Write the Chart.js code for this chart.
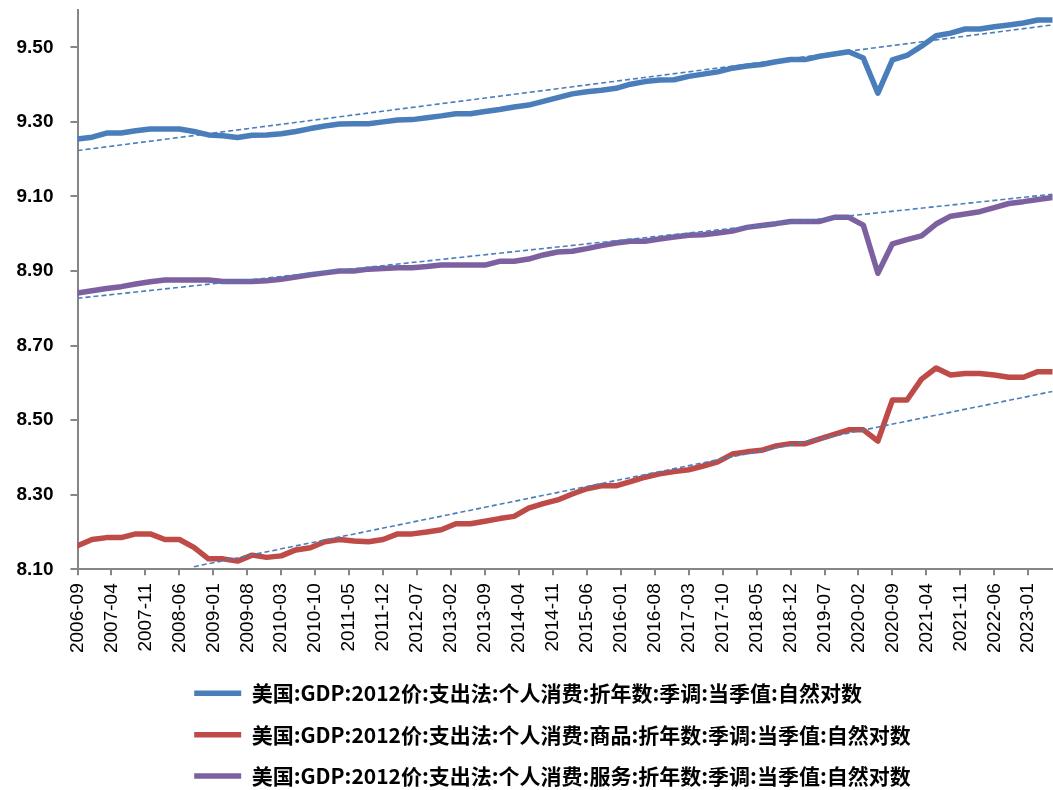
<!DOCTYPE html>
<html><head><meta charset="utf-8">
<script src="https://cdn.jsdelivr.net/npm/chart.js@4.4.0/dist/chart.umd.min.js"></script>
<style>html,body{margin:0;padding:0;background:#fff;}#wrap{width:1053px;height:790px;}</style>
</head><body><div id="wrap"><canvas id="c" width="1053" height="790"></canvas></div>
<script>
const quarters = ['2006-09','2006-12',
 '2007-03','2007-06','2007-09','2007-12','2008-03','2008-06','2008-09','2008-12',
 '2009-03','2009-06','2009-09','2009-12','2010-03','2010-06','2010-09','2010-12',
 '2011-03','2011-06','2011-09','2011-12','2012-03','2012-06','2012-09','2012-12',
 '2013-03','2013-06','2013-09','2013-12','2014-03','2014-06','2014-09','2014-12',
 '2015-03','2015-06','2015-09','2015-12','2016-03','2016-06','2016-09','2016-12',
 '2017-03','2017-06','2017-09','2017-12','2018-03','2018-06','2018-09','2018-12',
 '2019-03','2019-06','2019-09','2019-12','2020-03','2020-06','2020-09','2020-12',
 '2021-03','2021-06','2021-09','2021-12','2022-03','2022-06','2022-09','2022-12',
 '2023-03','2023-06'];
const totalConsumption = [9.254,9.259,9.270,9.270,9.276,9.281,9.281,9.281,9.274,9.265,
 9.263,9.258,9.264,9.265,9.268,9.274,9.282,9.289,9.294,9.295,
 9.295,9.300,9.305,9.306,9.311,9.316,9.322,9.322,9.328,9.333,
 9.340,9.345,9.355,9.365,9.375,9.381,9.385,9.390,9.401,9.408,
 9.412,9.413,9.422,9.428,9.434,9.444,9.450,9.454,9.461,9.467,
 9.467,9.476,9.482,9.488,9.471,9.377,9.466,9.478,9.503,9.531,
 9.538,9.549,9.549,9.555,9.560,9.565,9.573,9.573];
const goodsConsumption = [8.163,8.180,8.185,8.185,8.195,8.195,8.180,8.180,8.159,8.128,
 8.128,8.122,8.138,8.132,8.136,8.152,8.158,8.174,8.180,8.176,
 8.174,8.180,8.195,8.195,8.200,8.206,8.222,8.222,8.229,8.236,
 8.242,8.264,8.276,8.286,8.302,8.316,8.324,8.324,8.335,8.347,
 8.356,8.362,8.367,8.377,8.388,8.409,8.415,8.419,8.431,8.437,
 8.437,8.450,8.462,8.474,8.474,8.444,8.554,8.554,8.610,8.640,
 8.621,8.625,8.625,8.621,8.615,8.615,8.630,8.630];
const servicesConsumption = [8.841,8.847,8.853,8.858,8.865,8.871,8.876,8.876,8.876,8.876,
 8.872,8.872,8.872,8.874,8.878,8.884,8.890,8.895,8.900,8.900,
 8.905,8.907,8.909,8.909,8.912,8.916,8.916,8.916,8.916,8.926,
 8.926,8.932,8.943,8.951,8.953,8.960,8.968,8.975,8.980,8.980,
 8.986,8.991,8.996,8.997,9.002,9.007,9.017,9.022,9.027,9.033,
 9.033,9.033,9.044,9.044,9.023,8.894,8.973,8.984,8.994,9.026,
 9.047,9.053,9.059,9.070,9.081,9.086,9.092,9.097];
const trendTotalDates = ['2006-09','2023-06'];
const trendTotalValues = [9.223, 9.560];
const trendGoodsDates = ['2008-09','2023-06'];
const trendGoodsValues = [8.107, 8.577];
const trendServicesDates = ['2006-09','2023-06'];
const trendServicesValues = [8.827, 9.106];
const xTickLabels = ['2006-09','2007-04','2007-11','2008-06','2009-01','2009-08','2010-03','2010-10',
 '2011-05','2011-12','2012-07','2013-02','2013-09','2014-04','2014-11','2015-06','2016-01','2016-08',
 '2017-03','2017-10','2018-05','2018-12','2019-07','2020-02','2020-09','2021-04','2021-11','2022-06','2023-01'];
const yTickValues = [8.10,8.30,8.50,8.70,8.90,9.10,9.30,9.50];
const seriesNames = ['美国:GDP:2012价:支出法:个人消费:折年数:季调:当季值:自然对数',
 '美国:GDP:2012价:支出法:个人消费:商品:折年数:季调:当季值:自然对数',
 '美国:GDP:2012价:支出法:个人消费:服务:折年数:季调:当季值:自然对数'];

const monthIdx = s => { const [y, m] = s.split('-').map(Number); return (y - 2006) * 12 + (m - 9); };
const pts = (dates, vals) => dates.map((d, i) => ({x: monthIdx(d), y: vals[i]}));
const tickLabelMap = {};
xTickLabels.forEach(l => { tickLabelMap[monthIdx(l)] = l; });

const BLUE = '#4a7ebb', RED = '#be4b48', PURPLE = '#7d60a0', AXIS = '#868686';
const LEG_FONT = 21, LEG_PAD = 20.35;

const mainLine = (label, data, color) => ({
  label, data: pts(quarters, data), borderColor: color, backgroundColor: color,
  borderWidth: 5.5, pointRadius: 0, tension: 0, borderCapStyle: 'round', borderJoinStyle: 'round', order: 1
});
const trendLine = (dates, vals) => ({
  label: 'trend', data: pts(dates, vals), borderColor: BLUE, backgroundColor: BLUE,
  borderWidth: 1.6, borderDash: [5, 3], pointRadius: 0, tension: 0, order: 0
});

const legendShift = {
  id: 'legendShift',
  afterLayout(chart) {
    const lg = chart.legend;
    const dx = (194.2 - LEG_PAD) - lg.left; lg.left += dx; lg.right += dx;
    const dy = (693.3 - LEG_PAD - LEG_FONT / 2) - lg.top; lg.top += dy; lg.bottom += dy;
  }
};

new Chart(document.getElementById('c'), {
  type: 'line',
  data: { datasets: [
    mainLine(seriesNames[0], totalConsumption, BLUE),
    mainLine(seriesNames[1], goodsConsumption, RED),
    mainLine(seriesNames[2], servicesConsumption, PURPLE),
    trendLine(trendTotalDates, trendTotalValues),
    trendLine(trendGoodsDates, trendGoodsValues),
    trendLine(trendServicesDates, trendServicesValues)
  ]},
  options: {
    responsive: false, animation: false, devicePixelRatio: 1,
    layout: { padding: { top: 10, right: 0.5, left: 0, bottom: 0 } },
    plugins: {
      tooltip: { enabled: false },
      legend: {
        position: 'bottom', align: 'start',
        labels: {
          filter: item => item.datasetIndex < 3,
          usePointStyle: true, pointStyle: 'line', pointStyleWidth: 47,
          padding: LEG_PAD, color: '#000',
          font: { family: "'Noto Sans CJK SC', sans-serif", size: LEG_FONT, weight: 'bold' }
        }
      }
    },
    scales: {
      x: {
        type: 'linear', min: 0, max: 201,
        afterBuildTicks: s => { s.ticks = xTickLabels.map(l => ({ value: monthIdx(l) })); },
        afterFit: s => { s.height = 790 - 569.3 - (3 * (LEG_FONT + LEG_PAD) + 10); s.paddingLeft = 0; s.paddingRight = 0; },
        ticks: { autoSkip: false, minRotation: 90, maxRotation: 90, padding: 8, color: '#000',
          font: { family: "'Liberation Sans', Arial, sans-serif", size: 19 },
          callback: v => tickLabelMap[v] || '' },
        grid: { drawOnChartArea: false, drawTicks: true, tickLength: 6, color: AXIS, lineWidth: 2 },
        border: { display: true, color: AXIS, width: 2 }
      },
      y: {
        min: 8.10, max: 9.60,
        afterBuildTicks: s => { s.ticks = yTickValues.map(v => ({ value: v })); },
        afterFit: s => { s.width = 77.5; s.paddingTop = 0; s.paddingBottom = 0; },
        ticks: { padding: 17, color: '#000',
          font: { family: "'Liberation Sans', Arial, sans-serif", size: 19, weight: 'bold' },
          callback: v => Number(v).toFixed(2) },
        grid: { drawOnChartArea: false, drawTicks: true, tickLength: 7, color: AXIS, lineWidth: 2 },
        border: { display: true, color: AXIS, width: 2 }
      }
    }
  },
  plugins: [legendShift]
});
</script></body></html>
